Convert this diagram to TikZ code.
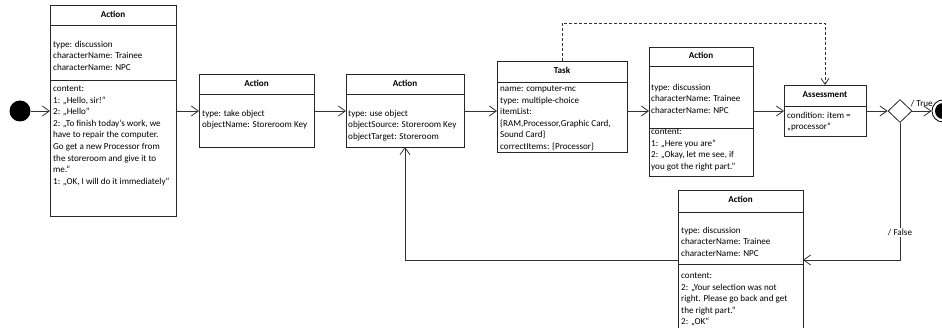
\documentclass[tikz,border=0pt]{standalone}
\usepackage{fontspec}
\setmainfont{Carlito}
\usetikzlibrary{arrows.meta,shapes.geometric,calc}
\tikzset{
  ubox/.style={draw=black!85, line width=0.8pt, inner sep=0pt, outer sep=0pt, fill=white},
  divl/.style={draw=black!85, line width=0.8pt},
  txt/.style={anchor=north west, inner sep=0pt, align=left, font=\fontsize{9.1}{11.6}\selectfont},
  hdr/.style={inner sep=0pt, font=\fontsize{9.1}{11}\selectfont\bfseries},
  conn/.style={draw=black!80, line width=0.8pt, -{Straight Barb[length=7pt,width=10pt]}},
  dconn/.style={draw=black!80, line width=0.8pt, dash pattern=on 3pt off 2pt, -{Straight Barb[length=6pt,width=8pt]}},
  lbl/.style={inner sep=1pt, fill=white, font=\fontsize{9.1}{11}\selectfont},
}
\newcommand\ubox[5]{%
  \pgfmathsetmacro\ubw{#4-#2}\pgfmathsetmacro\ubh{#5-#3}%
  \node[ubox, minimum width=\ubw pt, minimum height=\ubh pt] (#1) at ({(#2+#4)/2},{(#3+#5)/2}) {};}
\newcommand\udiv[2]{\draw[divl] (#1.west |- 0,#2) -- (#1.east |- 0,#2);}
\begin{document}
\begin{tikzpicture}[x=1pt,y=-1pt]
\useasboundingbox (0,0) rectangle (942,328);
\clip (0,0) rectangle (942,328);

% initial state
\node[circle, fill=black, minimum size=21pt, inner sep=0pt] (init) at (20,111) {};

% Action 1
\ubox{A1}{50}{5}{176}{216}
\udiv{A1}{25}\udiv{A1}{80}
\node[hdr] (A1h) at (113,14.5) {Action};
\node[txt] (A1a) at (53,40.5) {type: discussion\\characterName: Trainee\\characterName: NPC};
\node[txt] (A1c) at (53,85.5) {content:\\1: „Hello, sir!“\\2: „Hello“\\2: „To finish today’s work, we\\have to repair the computer.\\Go get a new Processor from\\the storeroom and give it to\\me.“\\1: „OK, I will do it immediately“};

% Action 2
\ubox{A2}{199}{74}{314}{147}
\udiv{A2}{94}
\node[hdr] (A2h) at (256.5,83) {Action};
\node[txt] (A2a) at (202,109.5) {type: take object\\objectName: Storeroom Key};

% Action 3
\ubox{A3}{346}{74}{464}{147}
\udiv{A3}{94}
\node[hdr] (A3h) at (405,83) {Action};
\node[txt] (A3a) at (348,109.5) {type: use object\\objectSource: Storeroom Key\\objectTarget: Storeroom};

% Task
\ubox{T}{497}{61}{627}{152}
\udiv{T}{82}
\node[hdr] (Th) at (562,70.5) {Task};
\node[txt] (Ta) at (500,85.5) {name: computer-mc\\type: multiple-choice\\itemList:\\\{RAM,Processor,Graphic Card,\\Sound Card\}\\correctItems: \{Processor\}};

% Action 5
\ubox{A5}{649}{47}{753}{176}
\udiv{A5}{66}\udiv{A5}{128}
\node[hdr] (A5h) at (701,55) {Action};
\node[txt] (A5a) at (651,83.5) {type: discussion\\characterName: Trainee\\characterName: NPC};
\node[txt] (A5c) at (651,128.5) {content:\\1: „Here you are“\\2: „Okay, let me see, if\\you got the right part.“};

% Assessment
\ubox{AS}{784}{85}{866}{136}
\udiv{AS}{106}
\node[hdr] (ASh) at (825,94.5) {Assessment};
\node[txt] (ASa) at (787,111.5) {condition: item =\\„processor“};

% Action 6
\ubox{A6}{678}{190}{803}{345}
\udiv{A6}{212}\udiv{A6}{264}
\node[hdr] (A6h) at (740.5,199) {Action};
\node[txt] (A6a) at (681,226.5) {type: discussion\\characterName: Trainee\\characterName: NPC};
\node[txt] (A6c) at (681,272.5) {content:\\2: „Your selection was not\\right. Please go back and get\\the right part.“\\2: „OK“};

% decision
\node[diamond, draw=black!85, line width=0.8pt, minimum width=24pt, minimum height=23pt, inner sep=0pt, fill=white] (D) at (900,111) {};

% final state
\node[circle, draw=black, line width=0.8pt, minimum size=22pt, inner sep=0pt] (fin) at (943,111) {};
\node[circle, fill=black, minimum size=16pt, inner sep=0pt] (finc) at (fin.center) {};

% connectors
\draw[conn] (init) -- (A1.west |- init);
\draw[conn] (A1.east |- init) -- (A2.west |- init);
\draw[conn] (A2.east |- init) -- (A3.west |- init);
\draw[conn] (A3.east |- init) -- (T.west |- init);
\draw[conn] (T.east |- init) -- (A5.west |- init);
\draw[conn] (A5.east |- init) -- (AS.west |- init);
\draw[conn] (AS.east |- init) -- (D.west);
\draw[conn] (D.east) -- node[lbl, pos=0, anchor=south west, fill=none, inner sep=0pt, yshift=4pt, xshift=-2pt] {/ True} (fin.west);
\draw[dconn] (T.north) -- ++(0,-38) -| (AS.north);
\draw[conn] (D.south) |- node[lbl, pos=0.4] {/ False} ($(A6.north east)+(0,70)$);
\draw[conn] ($(A6.north west)+(0,70)$) -| (A3.south);
\end{tikzpicture}
\end{document}
